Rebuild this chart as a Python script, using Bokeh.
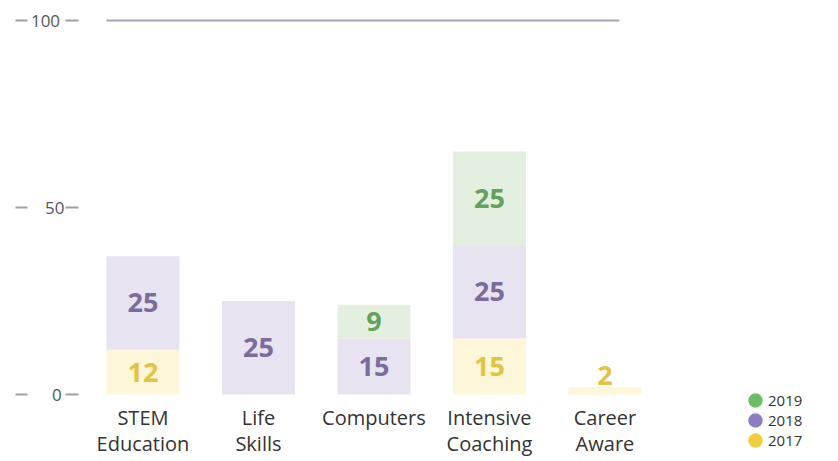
import numpy as np
from bokeh.plotting import figure
from bokeh.models import ColumnDataSource, FixedTicker, LinearAxis, Legend, LegendItem, Range1d
from bokeh.core.properties import value
from bokeh.embed import file_html
from bokeh.resources import INLINE

# ---------------- data ----------------
categories = ["STEM\nEducation", "Life\nSkills", "Computers", "Intensive\nCoaching", "Career\nAware"]
years = ["2017", "2018", "2019"]
values_2017 = [12, 0, 0, 15, 2]
values_2018 = [25, 25, 15, 25, 0]
values_2019 = [0, 0, 9, 25, 0]
y_ticks = [0, 50, 100]
reference_level = 100

# ---------------- styles ----------------
FONT = "Open Sans"
bar_fill = {"2017": "#fdf6d9", "2018": "#e8e3f0", "2019": "#e3f0e0"}
text_color = {"2017": "#e2c444", "2018": "#7b6c9c", "2019": "#66a05d"}
dot_color = {"2017": "#f3cd40", "2018": "#8f7bc2", "2019": "#6cbd64"}
bar_w = 0.632

xs = list(range(len(categories)))
series = {"2017": values_2017, "2018": values_2018, "2019": values_2019}

p = figure(width=838, height=461, output_backend="svg", toolbar_location=None,
           x_range=Range1d(-0.558, 6.022), y_range=Range1d(-17.91, 105.35),
           min_border_left=78, min_border_right=0, min_border_top=0, min_border_bottom=0)
p.outline_line_color = None
p.grid.visible = False
p.background_fill_color = "white"
p.border_fill_color = "white"
p.xaxis.visible = False

bottoms = [0] * len(xs)
for yr in years:
    vals = series[yr]
    tops = [b + v for b, v in zip(bottoms, vals)]
    idx = [i for i, v in enumerate(vals) if v > 0]
    src = ColumnDataSource(dict(
        x=[xs[i] for i in idx],
        bottom=[bottoms[i] for i in idx],
        top=[tops[i] for i in idx],
        label=[str(vals[i]) for i in idx],
        ly=[(bottoms[i] + tops[i]) / 2 if vals[i] >= 5 else tops[i] for i in idx],
        off=[0 if vals[i] >= 5 else -2 for i in idx],
        base=["middle" if vals[i] >= 5 else "bottom" for i in idx],
    ))
    p.vbar(x="x", bottom="bottom", top="top", width=bar_w, fill_color=bar_fill[yr],
           line_color=None, source=src)
    p.text(x="x", y="ly", text="label", y_offset="off", text_baseline="base",
           text_align="center", text_font=value(FONT), text_font_size="27px",
           text_font_style="bold", text_color=text_color[yr], source=src)
    bottoms = tops

# reference line at 100
p.segment(x0=[xs[0] - bar_w / 2], x1=[xs[-1] + 0.125], y0=[reference_level], y1=[reference_level],
          line_color="#a9a4b9", line_width=2)

# category labels under the bars (scaled through the x range, anchored at y = 0)
cat_src = ColumnDataSource(dict(x=xs, y=[0] * len(xs), text=categories))
p.text(x="x", y="y", text="text", source=cat_src, y_offset=9, text_baseline="top",
       text_align="center", text_font=value(FONT), text_font_size="20px",
       text_color="#333333", text_line_height=0.98)

# y axis (labels + right dash)
ya = p.yaxis[0]
ya.ticker = FixedTicker(ticks=y_ticks)
ya.major_label_overrides = {0: "0\u2009", 50: "50", 100: " 100"}
ya.axis_line_color = None
ya.major_tick_out = 13
ya.major_tick_in = 0
ya.major_tick_line_color = "#a0a0a0"
ya.major_tick_line_width = 2
ya.minor_tick_line_color = None
ya.major_label_standoff = 1
ya.major_label_text_font = FONT
ya.major_label_text_font_size = "17px"
ya.major_label_text_color = "#555555"

# second y axis (left dash)
yb = LinearAxis(ticker=FixedTicker(ticks=y_ticks),
                major_label_overrides={t: "" for t in y_ticks},
                major_tick_out=12, major_tick_in=0, major_label_standoff=12,
                axis_line_color=None, minor_tick_line_color=None,
                major_tick_line_color="#a0a0a0", major_tick_line_width=2)
p.add_layout(yb, "left")

# legend
items = []
for yr in ["2019", "2018", "2017"]:
    r = p.ellipse(x=[np.nan], y=[np.nan], width=14, height=14,
                  width_units="screen", height_units="screen",
                  fill_color=dot_color[yr], line_color=None)
    items.append(LegendItem(label=yr, renderers=[r]))
legend = Legend(items=items, location=(668, 11), orientation="vertical",
                glyph_width=18, glyph_height=18, label_height=20, spacing=0, label_standoff=4,
                padding=0, margin=0, border_line_color=None, background_fill_alpha=0,
                label_text_font=FONT, label_text_font_size="15px", label_text_color="#333333")
p.add_layout(legend, "center")

open("out.html", "w").write(file_html(p, INLINE))
